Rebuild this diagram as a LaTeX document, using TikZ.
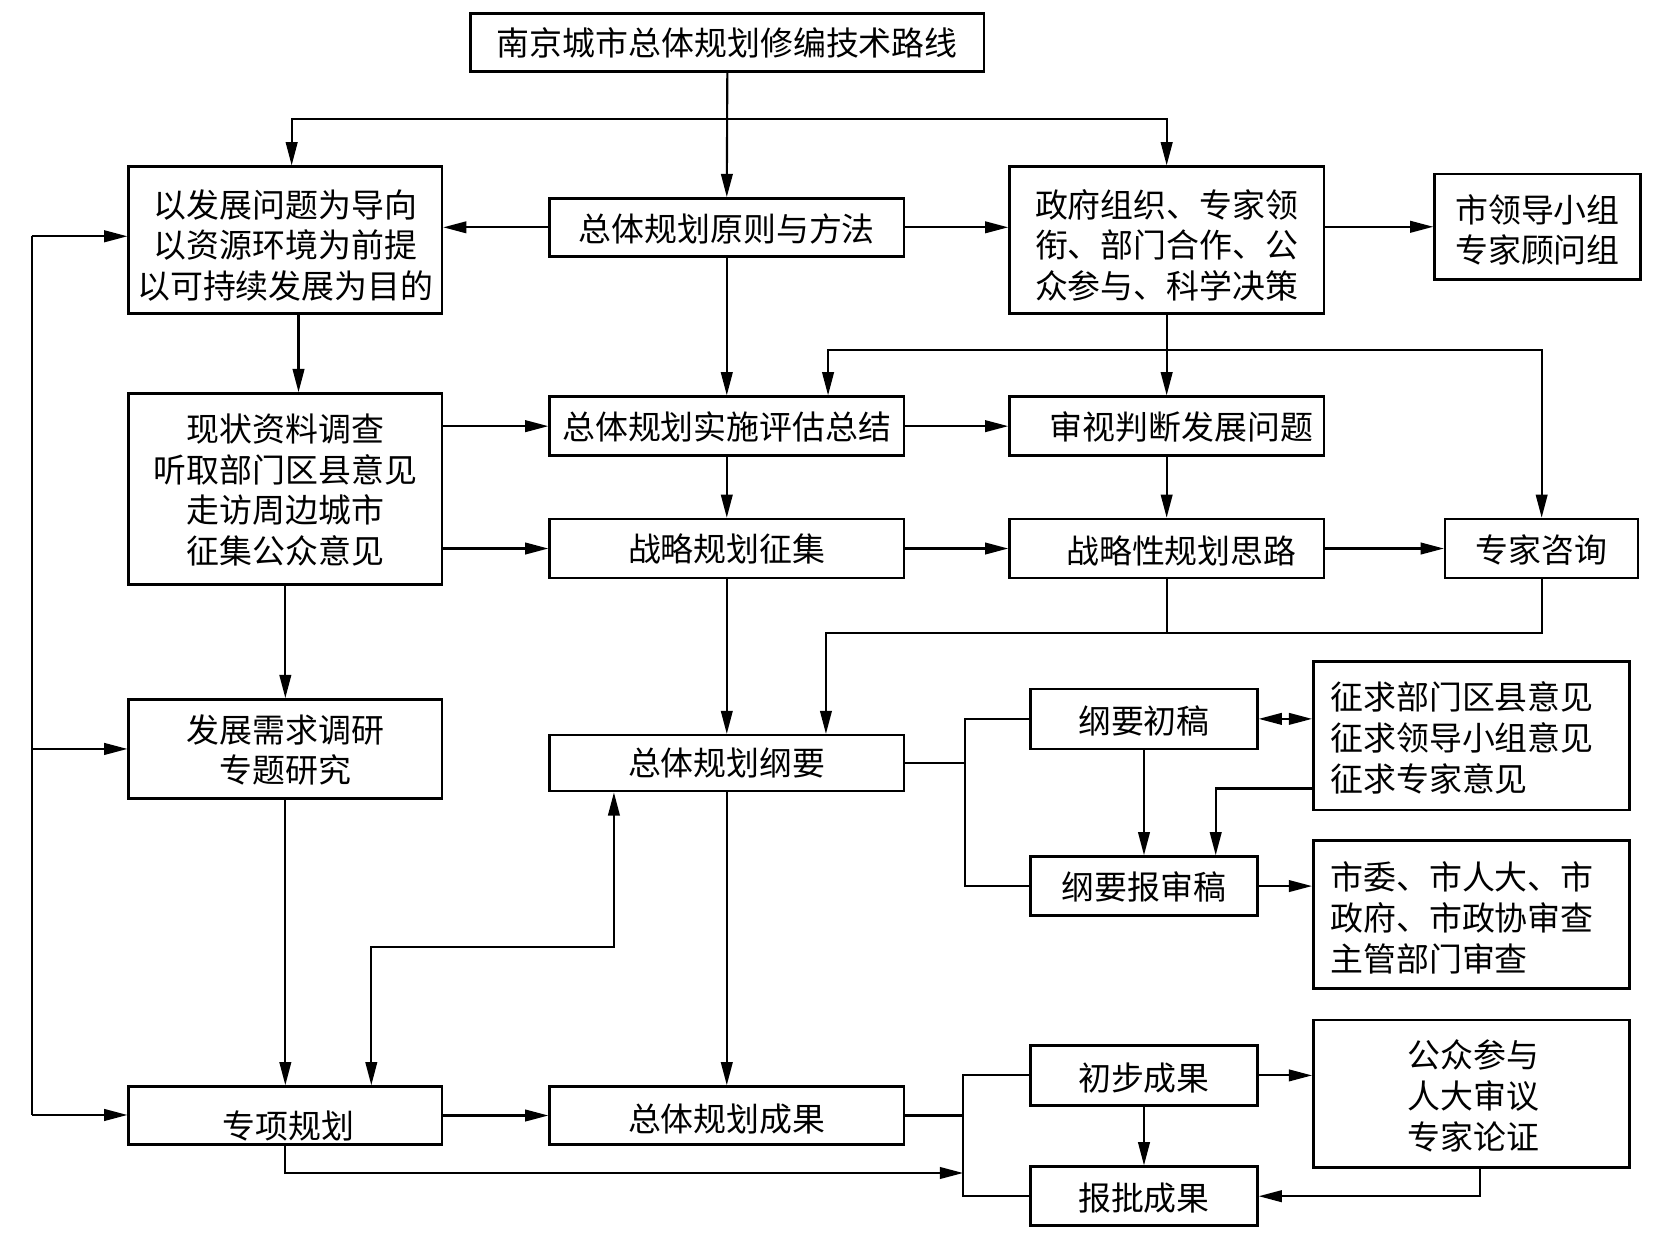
\documentclass[tikz,border=0pt]{standalone}
\usepackage{fontspec}
\setmainfont{Noto Sans CJK SC}
\usetikzlibrary{arrows.meta,fit}
\begin{document}
\begin{tikzpicture}[x=0.5pt,y=-0.5pt,
  box/.style={draw,line width=1.2pt,inner sep=0pt},
  txt/.style={inner sep=0pt,align=center,font=\fontsize{15.6pt}{19.3pt}\selectfont},
  ln/.style={line width=1pt},
  arr/.style={ln,-{Triangle[length=11pt,width=5.5pt]}},
  darr/.style={ln,{Triangle[length=11pt,width=5.5pt]}-{Triangle[length=11pt,width=5.5pt]}}]
\fill[white] (0,0) rectangle (1568,1192);
\useasboundingbox (0,0) rectangle (1568,1192);

% frames
\node[box,fit={(446,13)(933,68)}] (title) {};
\node[box,fit={(122,158)(419,297)}] (A) {};
\node[box,fit={(521,188)(857,243)}] (B) {};
\node[box,fit={(957,158)(1255,297)}] (C) {};
\node[box,fit={(1360,165)(1555,265)}] (D) {};
\node[box,fit={(521,376)(857,432)}] (E) {};
\node[box,fit={(122,373)(419,554)}] (F) {};
\node[box,fit={(957,376)(1255,432)}] (G) {};
\node[box,fit={(521,492)(857,548)}] (H) {};
\node[box,fit={(957,492)(1255,548)}] (I) {};
\node[box,fit={(1370,492)(1553,548)}] (J) {};
\node[box,fit={(521,697)(857,750)}] (K) {};
\node[box,fit={(122,663)(419,757)}] (L) {};
\node[box,fit={(122,1030)(419,1085)}] (M) {};
\node[box,fit={(521,1030)(857,1085)}] (N) {};
\node[box,fit={(977,653)(1192,710)}] (O) {};
\node[box,fit={(1245,627)(1545,768)}] (Q) {};
\node[box,fit={(977,812)(1192,868)}] (P) {};
\node[box,fit={(1245,797)(1545,937)}] (R) {};
\node[box,fit={(977,991)(1192,1048)}] (S) {};
\node[box,fit={(1245,967)(1545,1107)}] (V) {};
\node[box,fit={(977,1106)(1192,1162)}] (U) {};

% texts
\node[txt] (ttitle) at (title.center) {南京城市总体规划修编技术路线};
\node[txt] (tA) at ([yshift=-2.5pt]A.center) {以发展问题为导向\\以资源环境为前提\\以可持续发展为目的};
\node[txt] (tB) at ([yshift=-1pt]B.center) {总体规划原则与方法};
\node[txt] (tC) at ([yshift=-2.5pt]C.center) {政府组织、专家领\\衔、部门合作、公\\众参与、科学决策};
\node[txt] (tD) at ([yshift=-1.5pt]D.center) {市领导小组\\专家顾问组};
\node[txt] (tE) at ([yshift=-0.5pt]E.center) {总体规划实施评估总结};
\node[txt] (tF) at ([yshift=-0.5pt]F.center) {现状资料调查\\听取部门区县意见\\走访周边城市\\征集公众意见};
\node[txt] (tG) at ([xshift=7pt,yshift=-0.5pt]G.center) {审视判断发展问题};
\node[txt] (tH) at (H.center) {战略规划征集};
\node[txt] (tI) at ([xshift=7pt,yshift=-1pt]I.center) {战略性规划思路};
\node[txt] (tJ) at ([yshift=-0.5pt]J.center) {专家咨询};
\node[txt] (tK) at (K.center) {总体规划纲要};
\node[txt] (tL) at ([yshift=-0.5pt]L.center) {发展需求调研\\专题研究};
\node[txt] (tM) at ([xshift=1.5pt,yshift=-5pt]M.center) {专项规划};
\node[txt] (tN) at ([yshift=-1.5pt]N.center) {总体规划成果};
\node[txt] (tO) at ([yshift=-1pt]O.center) {纲要初稿};
\node[txt,anchor=west,align=left] (tQ) at ([xshift=8.5pt,yshift=-1pt]Q.west) {征求部门区县意见\\征求领导小组意见\\征求专家意见};
\node[txt] (tP) at ([yshift=-0.5pt]P.center) {纲要报审稿};
\node[txt,anchor=west,align=left] (tR) at ([xshift=8.5pt,yshift=-1.5pt]R.west) {市委、市人大、市\\政府、市政协审查\\主管部门审查};
\node[txt] (tS) at ([yshift=-1.5pt]S.center) {初步成果};
\node[txt] (tV) at ([xshift=1pt,yshift=-1pt]V.center) {公众参与\\人大审议\\专家论证};
\node[txt] (tU) at ([yshift=-1pt]U.center) {报批成果};

\coordinate (split) at (689.5,113);
\coordinate (j1) at (1106,332);
\coordinate (m1) at (783,600);
\coordinate (bt) at (30,224);
\coordinate (bb) at (30,1057);
\coordinate (kx) at (915,0);
\coordinate (nx) at (913,0);
\coordinate (nb) at (913,1112);

% top distribution
\draw[arr] (title.south) -- (B.north);
\draw[arr] (split) -| ([xshift=3pt]A.north);
\draw[arr] (split) -| (C.north);
\draw[arr] (B.west) -- (B.west -| A.east);
\draw[arr] (B.east) -- (B.east -| C.west);
\draw[arr] (C.east |- D.west) -- (D.west);

% second row
\draw[arr] ([xshift=6.25pt]A.south) -- ([xshift=6.25pt]A.south |- F.north);
\draw[arr] (B.south) -- (E.north);
\draw[arr] (C.south) -- (G.north);
\draw[arr] (j1) -| ([xshift=48pt]E.north);
\draw[arr] (j1) -| (J.north);
\draw[arr] (F.east |- E.west) -- (E.west);
\draw[arr] (E.east) -- (G.west);
\draw[arr] (E.south) -- (H.north);
\draw[arr] (F.east |- H.west) -- (H.west);
\draw[arr] (H.east) -- (I.west);
\draw[arr] (G.south) -- (I.north);
\draw[arr] (I.east) -- (J.west);

% merge to outline
\draw[ln] (I.south) -- (I.south |- m1);
\draw[arr] (J.south) |- (m1) -- ([xshift=47pt]K.north);
\draw[arr] (H.south) -- (K.north);

% left column
\draw[arr] (F.south) -- (L.north);
\draw[arr] (L.south) -- (M.north);
\draw[arr] (M.east) -- (N.west);
\draw[arr] (K.south) -- (N.north);
\draw[darr] ([xshift=40.75pt]M.north) |- ([xshift=-53.5pt]K.south |- 0,898) -- ([xshift=-53.5pt]K.south);

% feedback bus
\draw[ln] (bb) -- (bt);
\draw[arr] (bt) -- (bt -| A.west);
\draw[arr] (L.west -| bb) -- (L.west);
\draw[arr] (bb) -- (bb -| M.west);

% outline branch
\draw[ln] (K.east) -- (K.east -| kx);
\draw[ln] (O.west) -| (P.west -| kx) -- (P.west);
\draw[darr] (O.east) -- (O.east -| Q.west);
\draw[arr] (O.south) -- (P.north);
\draw[arr] ([yshift=-25pt]Q.west) -| ([xshift=34pt]P.north);
\draw[arr] (P.east) -- (P.east -| R.west);

% result branch
\draw[ln] (N.east) -- (N.east -| nx);
\draw[ln] (S.west) -| (U.west -| nx) -- (U.west);
\draw[arr] (M.south) |- (nb);
\draw[arr] (S.east) -- (S.east -| V.west);
\draw[arr] (S.south) -- (U.north);
\draw[arr] ([xshift=4pt]V.south) |- (U.east);
\end{tikzpicture}
\end{document}
